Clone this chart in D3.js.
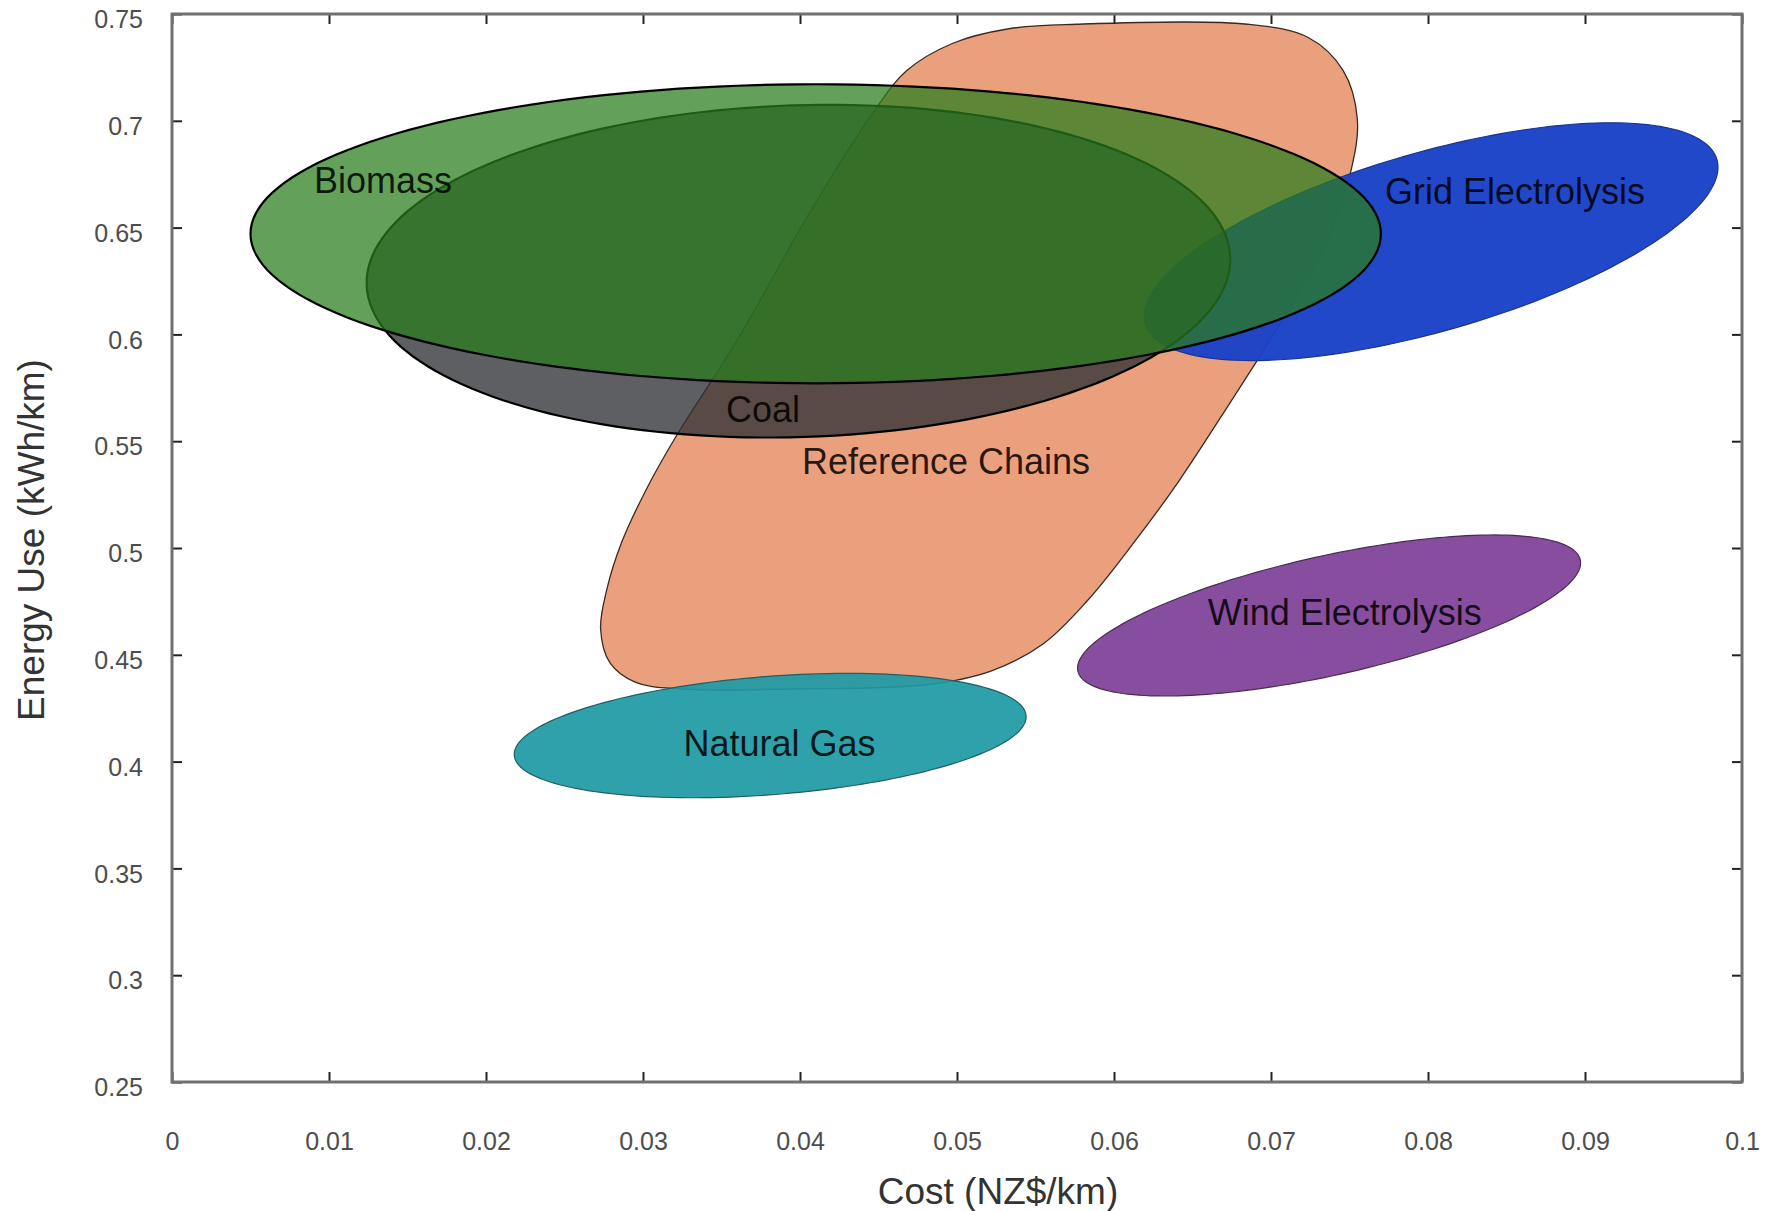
<!DOCTYPE html>
<html>
<head>
<meta charset="utf-8">
<script src="https://cdn.jsdelivr.net/npm/d3@7"></script>
<style>
  body { margin: 0; background: #ffffff; }
  svg { display: block; }
</style>
</head>
<body>
<div id="chart"></div>
<script>
// axis ticks
var xTicks = [0, 0.01, 0.02, 0.03, 0.04, 0.05, 0.06, 0.07, 0.08, 0.09, 0.1];
var xTickLabels = ["0", "0.01", "0.02", "0.03", "0.04", "0.05", "0.06", "0.07", "0.08", "0.09", "0.1"];
var yTicks = [0.25, 0.3, 0.35, 0.4, 0.45, 0.5, 0.55, 0.6, 0.65, 0.7, 0.75];
var yTickLabels = ["0.25", "0.3", "0.35", "0.4", "0.45", "0.5", "0.55", "0.6", "0.65", "0.7", "0.75"];

// ellipses: centre, end of long axis, end of short axis  [cost, energy]
var ellipseNames   = ["Natural Gas", "Wind Electrolysis", "Grid Electrolysis", "Coal", "Biomass"];
var ellipseCenters = [[0.0381, 0.4122], [0.0737, 0.4684], [0.0802, 0.6434], [0.0399, 0.6296], [0.0410, 0.6471]];
var ellipseTips    = [[0.0544, 0.4215], [0.0897, 0.4944], [0.0984, 0.6819], [0.0674, 0.6362], [0.0770, 0.6471]];
var ellipseSides   = [[0.0384, 0.3846], [0.0745, 0.4411], [0.0818, 0.6032], [0.0403, 0.5520], [0.0410, 0.5771]];

// reference chains outline (clockwise from top left)
var refCost   = [0.0446, 0.0468, 0.0497, 0.0533, 0.0576, 0.0685, 0.0724, 0.0746, 0.0755, 0.0751,
                 0.0735, 0.0706, 0.0674, 0.0641, 0.0612, 0.0583, 0.0555, 0.0522, 0.0482, 0.0396,
                 0.0324, 0.0295, 0.0279, 0.0273, 0.0277, 0.0286, 0.0302, 0.0321, 0.0360, 0.0405];
var refEnergy = [0.7033, 0.7235, 0.7362, 0.7431, 0.7452, 0.7452, 0.7389, 0.7235, 0.7007, 0.6768,
                 0.6424, 0.6052, 0.5681, 0.5310, 0.5019, 0.4753, 0.4552, 0.4425, 0.4361, 0.4340,
                 0.4340, 0.4372, 0.4462, 0.4621, 0.4807, 0.5019, 0.5273, 0.5522, 0.5973, 0.6556];

// text labels [cost, energy] of the baseline centre
var labelNames  = ["Biomass", "Coal", "Reference Chains", "Grid Electrolysis", "Wind Electrolysis", "Natural Gas"];
var labelCost   = [0.01344, 0.03764, 0.04930, 0.08554, 0.07470, 0.03870];
var labelEnergy = [0.6662, 0.5590, 0.5346, 0.6610, 0.4640, 0.4026];

var width = 1771, height = 1211;
var plot = {left: 172, right: 1742, top: 14, bottom: 1082};

var x = d3.scaleLinear().domain([0, 0.1]).range([plot.left, plot.right]);
var y = d3.scaleLinear().domain([0.25, 0.75]).range([plot.bottom, plot.top]);

var styles = {
  "Reference Chains":  {fill: "#eaa07c", opacity: 1,    stroke: "#3a2a22", sw: 1.3},
  "Natural Gas":       {fill: "#1f9aa4", opacity: 0.93, stroke: "#1f5e63", sw: 1.2},
  "Wind Electrolysis": {fill: "#874d9e", opacity: 1,    stroke: "#4a2a55", sw: 1.2},
  "Grid Electrolysis": {fill: "#1a42c6", opacity: 0.97, stroke: "#1a3590", sw: 1.2},
  "Coal":              {fill: "#2f3237", opacity: 0.78, stroke: "#000000", sw: 2.2},
  "Biomass":           {fill: "#297d1d", opacity: 0.73, stroke: "#000000", sw: 2.2}
};

var svg = d3.select("#chart").append("svg")
  .attr("width", width)
  .attr("height", height);

var shapes = svg.append("g").attr("class", "shapes");

// reference chains blob
var refPts = refCost.map(function(c, i) { return [c, refEnergy[i]]; });
var blob = d3.line()
  .x(function(d) { return x(d[0]); })
  .y(function(d) { return y(d[1]); })
  .curve(d3.curveCatmullRomClosed.alpha(0.5));

var st = styles["Reference Chains"];
shapes.append("path")
  .attr("d", blob(refPts))
  .attr("fill", st.fill)
  .attr("fill-opacity", st.opacity)
  .attr("stroke", st.stroke)
  .attr("stroke-width", st.sw);

// ellipses
var ring = d3.line()
  .x(function(d) { return x(d[0]); })
  .y(function(d) { return y(d[1]); })
  .curve(d3.curveLinearClosed);

function ellipsePoints(c, tip, side) {
  var pts = [];
  for (var k = 0; k < 180; k++) {
    var t = k / 180 * 2 * Math.PI;
    pts.push([
      c[0] + (tip[0] - c[0]) * Math.cos(t) + (side[0] - c[0]) * Math.sin(t),
      c[1] + (tip[1] - c[1]) * Math.cos(t) + (side[1] - c[1]) * Math.sin(t)
    ]);
  }
  return pts;
}

ellipseNames.forEach(function(name, i) {
  var s = styles[name];
  shapes.append("path")
    .attr("class", "ellipse")
    .attr("d", ring(ellipsePoints(ellipseCenters[i], ellipseTips[i], ellipseSides[i])))
    .attr("fill", s.fill)
    .attr("fill-opacity", s.opacity)
    .attr("stroke", s.stroke)
    .attr("stroke-width", s.sw);
});

// labels
svg.append("g").selectAll("text")
  .data(labelNames)
  .enter().append("text")
    .attr("x", function(d, i) { return x(labelCost[i]); })
    .attr("y", function(d, i) { return y(labelEnergy[i]); })
    .attr("text-anchor", "middle")
    .style("font-family", "'Liberation Sans', Arial, sans-serif")
    .style("font-size", "36px")
    .attr("fill", "#000000")
    .attr("fill-opacity", 0.85)
    .text(function(d) { return d; });

// axes
var tickFont = "'Liberation Sans', Arial, sans-serif";

var gx = svg.append("g")
  .attr("transform", "translate(0," + plot.bottom + ")")
  .call(d3.axisBottom(x).tickValues(xTicks).tickSize(-10).tickPadding(50)
    .tickFormat(function(d, i) { return xTickLabels[i]; }));

var gy = svg.append("g")
  .attr("transform", "translate(" + plot.left + ",0)")
  .call(d3.axisLeft(y).tickValues(yTicks).tickSize(-10).tickPadding(29)
    .tickFormat(function(d, i) { return yTickLabels[i]; }));

var gt = svg.append("g")
  .attr("transform", "translate(0," + plot.top + ")")
  .call(d3.axisTop(x).tickValues(xTicks).tickSize(-10).tickFormat(""));

var gr = svg.append("g")
  .attr("transform", "translate(" + plot.right + ",0)")
  .call(d3.axisRight(y).tickValues(yTicks).tickSize(-10).tickFormat(""));

[gx, gy, gt, gr].forEach(function(g) {
  g.select(".domain").remove();
  g.selectAll(".tick line").attr("stroke", "#222").attr("stroke-width", 2);
  g.selectAll(".tick text")
    .style("font-family", tickFont)
    .style("font-size", "25px")
    .attr("fill", "#4d4d4d");
});
gy.selectAll(".tick text").attr("dy", "0.55em");

// frame
svg.append("rect")
  .attr("x", plot.left)
  .attr("y", plot.top)
  .attr("width", plot.right - plot.left)
  .attr("height", plot.bottom - plot.top)
  .attr("fill", "none")
  .attr("stroke", "#707070")
  .attr("stroke-width", 3);

// axis titles
svg.append("text")
  .attr("x", 998)
  .attr("y", 1204)
  .attr("text-anchor", "middle")
  .style("font-family", "'Liberation Sans', Arial, sans-serif")
  .style("font-size", "37px")
  .attr("fill", "#333")
  .text("Cost (NZ$/km)");

svg.append("text")
  .attr("transform", "translate(44," + 540 + ") rotate(-90)")
  .attr("text-anchor", "middle")
  .style("font-family", "'Liberation Sans', Arial, sans-serif")
  .style("font-size", "37px")
  .attr("fill", "#333")
  .text("Energy Use (kWh/km)");
</script>
</body>
</html>
